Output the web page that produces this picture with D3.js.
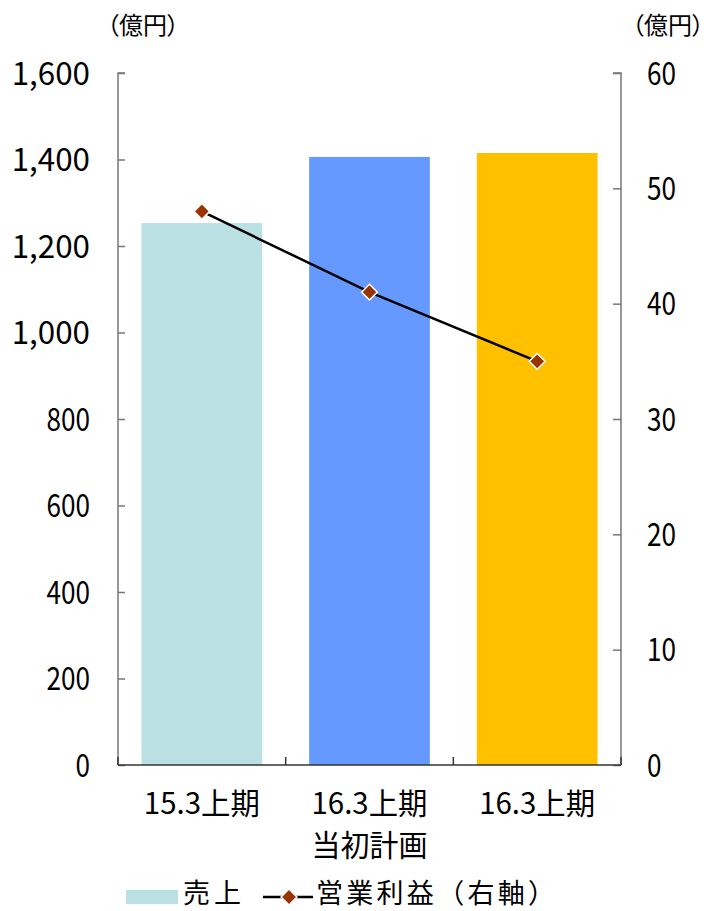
<!DOCTYPE html>
<html><head><meta charset="utf-8">
<script src="https://cdn.jsdelivr.net/npm/d3@7"></script>
<style>body{margin:0;background:#fff}svg{display:block}text{font-family:"Noto Sans CJK JP","Noto Sans",sans-serif;fill:#000}.palt{font-feature-settings:"palt" 1}</style>
</head><body>
<script>
const categories = ["15.3上期", "16.3上期\n当初計画", "16.3上期"];
const sales = [1253, 1406, 1415];
const profit = [48, 41, 35];
const barColors = ["#BBE0E3", "#6699FF", "#FFC000"];
const leftTicks = [0, 200, 400, 600, 800, 1000, 1200, 1400, 1600];
const rightTicks = [0, 10, 20, 30, 40, 50, 60];
const unitLabel = "（億円）";
const legendLabels = ["売上", "営業利益（右軸）"];

const W = 710, H = 911, fs = 29, nfs = 32;
const m = {l: 118, r: 621, t: 73, b: 765};
const svg = d3.select("body").append("svg").attr("width", W).attr("height", H);

const x = d3.scaleBand().domain(d3.range(categories.length)).range([m.l, m.r]).paddingInner(0.28).paddingOuter(0.14);
const yL = d3.scaleLinear().domain([0, 1600]).range([m.b, m.t]);
const yR = d3.scaleLinear().domain([0, 60]).range([m.b, m.t]);

// width emulating monospace gothic (half-width = 0.5em, full-width = 1em)
function monoLen(s, f){f = f || fs; let n=0;for(const c of s){n += (c.charCodeAt(0) < 0x2000) ? 0.5 : 1;}return n*f;}
function fmt(v){return d3.format(",")(v);}

// bars
svg.append("g").selectAll("rect").data(sales).join("rect")
  .attr("x", (d,i)=>x(i)).attr("width", x.bandwidth())
  .attr("y", d=>yL(d)).attr("height", d=>m.b - yL(d))
  .attr("fill", (d,i)=>barColors[i]);

// axes
const axCol = "#777";
const gL = svg.append("g").attr("transform", `translate(${m.l},0)`)
  .call(d3.axisRight(yL).tickValues(leftTicks).tickSize(7).tickFormat(""));
gL.select(".domain").attr("stroke", axCol).attr("stroke-width", 1.5).attr("d", `M7,${m.t}H0V${m.b}`);
gL.selectAll(".tick line").attr("stroke", axCol).attr("stroke-width", 1.5);

const gR = svg.append("g").attr("transform", `translate(${m.r},0)`)
  .call(d3.axisLeft(yR).tickValues(rightTicks).tickSize(8).tickFormat(""));
gR.select(".domain").attr("stroke", axCol).attr("stroke-width", 1.5).attr("d", `M-8,${m.t}H0V${m.b}`);
gR.selectAll(".tick line").attr("stroke", axCol).attr("stroke-width", 1.5);

// bottom axis
const bounds = d3.range(categories.length + 1).map(i => m.l + i * (m.r - m.l) / categories.length);
svg.append("line").attr("x1", m.l).attr("x2", m.r).attr("y1", m.b).attr("y2", m.b).attr("stroke", "#333").attr("stroke-width", 1.5);
svg.append("g").selectAll("line").data(bounds).join("line")
  .attr("x1", d=>d).attr("x2", d=>d).attr("y1", m.b).attr("y2", m.b - 8).attr("stroke", "#333").attr("stroke-width", 1.5);

// left tick labels
svg.append("g").selectAll("text").data(leftTicks).join("text")
  .attr("x", 90).attr("y", d=>yL(d)).attr("dy", "0.36em").attr("text-anchor", "end")
  .attr("font-size", nfs)
  .attr("textLength", d=>monoLen(fmt(d), fs) + (d>=1000 ? fs*0.2 : 0)).attr("lengthAdjust", "spacingAndGlyphs")
  .text(d=>fmt(d));

// right tick labels
svg.append("g").selectAll("text").data(rightTicks).join("text")
  .attr("x", 647).attr("y", d=>yR(d)).attr("dy", "0.36em").attr("text-anchor", "start")
  .attr("font-size", nfs)
  .attr("textLength", d=>monoLen(String(d), fs)).attr("lengthAdjust", "spacingAndGlyphs")
  .text(d=>d);

// unit labels
[107, 632].forEach(lx => {
  svg.append("text").attr("class", "palt").attr("x", lx).attr("y", 25).attr("dy", "0.36em").attr("font-size", 24)
    .text(unitLabel);
});

// category labels
categories.forEach((c, i) => {
  const cx = x(i) + x.bandwidth()/2;
  c.split("\n").forEach((line, j) => {
    svg.append("text").attr("x", cx).attr("y", 803 + j*42).attr("dy", "0.36em").attr("text-anchor", "middle")
      .attr("font-size", 30).attr("textLength", monoLen(line)).attr("lengthAdjust", "spacingAndGlyphs").text(line);
  });
});

// line
const cx = i => x(i) + x.bandwidth()/2;
svg.append("path").datum(profit)
  .attr("d", d3.line().x((d,i)=>cx(i)).y(d=>yR(d)))
  .attr("fill", "none").attr("stroke", "#000").attr("stroke-width", 2.5);
const diamond = d3.symbol().type(d3.symbolDiamond2).size(160);
svg.append("g").selectAll("path").data(profit).join("path")
  .attr("transform", (d,i)=>`translate(${cx(i)},${yR(d)})`)
  .attr("d", diamond).attr("fill", "#993300").attr("stroke", "#fff").attr("stroke-width", 1.5);

// legend
const ly = 893;
svg.append("rect").attr("x", 126).attr("y", 890).attr("width", 52).attr("height", 14).attr("fill", barColors[0]);
svg.append("text").attr("x", 183).attr("y", ly).attr("dy", "0.36em").attr("font-size", 27)
  .attr("textLength", monoLen(legendLabels[0])).attr("lengthAdjust", "spacing").text(legendLabels[0]);
svg.append("line").attr("x1", 263).attr("x2", 313).attr("y1", 897).attr("y2", 897).attr("stroke", "#000").attr("stroke-width", 2.5);
svg.append("path").attr("transform", "translate(289,897)").attr("d", diamond).attr("fill", "#993300").attr("stroke", "#fff").attr("stroke-width", 1.5);
svg.append("text").attr("x", 316).attr("y", ly).attr("dy", "0.36em").attr("font-size", 27)
  .attr("textLength", 239).attr("lengthAdjust", "spacing").text(legendLabels[1]);
</script>
</body></html>
